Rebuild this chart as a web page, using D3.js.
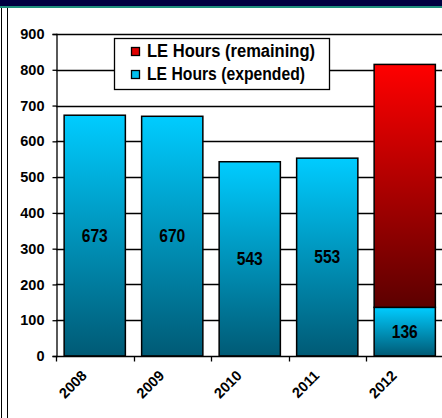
<!DOCTYPE html>
<html>
<head>
<meta charset="utf-8">
<script src="https://cdn.jsdelivr.net/npm/d3@7/dist/d3.min.js"></script>
<style>
  html, body { margin: 0; padding: 0; background: #fff; }
  svg { display: block; font-family: Arial, "Liberation Sans", sans-serif; }
</style>
</head>
<body>
<svg id="chart" width="442" height="418"></svg>
<script>
// LE hours by year
const years = ["2008", "2009", "2010", "2011", "2012"];
const expended = [673, 670, 543, 553, 136];
const remaining = [0, 0, 0, 0, 679];
const yTicks = [0, 100, 200, 300, 400, 500, 600, 700, 800, 900];
const legendLabels = ["LE Hours (remaining)", "LE Hours (expended)"];

const W = 442, H = 418;
const svg = d3.select("#chart");

// gradients for bar fills
const defs = svg.append("defs");
function vGrad(id, top, bottom) {
  const g = defs.append("linearGradient").attr("id", id)
    .attr("x1", 0).attr("y1", 0).attr("x2", 0).attr("y2", 1);
  g.append("stop").attr("offset", "0%").attr("stop-color", top);
  g.append("stop").attr("offset", "100%").attr("stop-color", bottom);
}
vGrad("gExp", "#00ccff", "#005a75");
vGrad("gRem", "#ff0000", "#5c0000");

// frame: header band and left rules
svg.append("rect").attr("x", 0).attr("y", 0).attr("width", W).attr("height", 6).attr("fill", "#000040");
svg.append("rect").attr("x", 0).attr("y", 6).attr("width", W).attr("height", 2).attr("fill", "#1f8f7c");
svg.append("line").attr("x1", 1.5).attr("x2", 1.5).attr("y1", 8).attr("y2", H).attr("stroke", "#000").attr("stroke-width", 1);
svg.append("line").attr("x1", 7.5).attr("x2", 7.5).attr("y1", 8).attr("y2", H).attr("stroke", "#000").attr("stroke-width", 1);

const x = d3.scaleBand().domain(years).range([56, 443.5]).paddingInner(0.21).paddingOuter(0.105);
const y = d3.scaleLinear().domain([0, 900]).range([356, 34]);

// horizontal grid lines
svg.append("g").selectAll("line").data(yTicks.filter(d => d > 0)).join("line")
  .attr("x1", 56).attr("x2", W)
  .attr("y1", d => Math.round(y(d)) + 0.5).attr("y2", d => Math.round(y(d)) + 0.5)
  .attr("stroke", "#000").attr("stroke-width", 1.3);

// bars
const bars = svg.append("g");
years.forEach((yr, i) => {
  const e = expended[i], r = remaining[i];
  bars.append("rect")
    .attr("x", x(yr)).attr("width", x.bandwidth())
    .attr("y", y(e)).attr("height", y(0) - y(e))
    .attr("fill", "url(#gExp)").attr("stroke", "#000").attr("stroke-width", 1.5);
  if (r > 0) {
    bars.append("rect")
      .attr("x", x(yr)).attr("width", x.bandwidth())
      .attr("y", y(e + r)).attr("height", y(e) - y(e + r))
      .attr("fill", "url(#gRem)").attr("stroke", "#000").attr("stroke-width", 1.5);
  }
  bars.append("text")
    .attr("x", x(yr) + x.bandwidth() / 2 - 13)
    .attr("y", (y(0) + y(e)) / 2)
    .attr("dy", "0.36em")
    .attr("textLength", 26).attr("lengthAdjust", "spacingAndGlyphs")
    .attr("font-size", 17.5).attr("font-weight", "bold").attr("fill", "#000")
    .text(e);
});

// y axis
const yAxis = svg.append("g").attr("transform", "translate(56.5,0)")
  .call(d3.axisLeft(y).tickValues(yTicks).tickSize(4).tickPadding(8).tickFormat(d3.format("d")));
yAxis.select(".domain").attr("stroke", "#000").attr("stroke-width", 1.3);
yAxis.selectAll(".tick line").attr("stroke", "#000").attr("stroke-width", 1.3);
yAxis.selectAll("text").attr("font-size", 14.5).attr("font-weight", "bold").attr("fill", "#000")
  .attr("font-family", "Arial, 'Liberation Sans', sans-serif");

// x axis
const xAxis = svg.append("g").attr("transform", "translate(0,356.5)");
xAxis.append("line").attr("x1", 56).attr("x2", W).attr("y1", 0).attr("y2", 0)
  .attr("stroke", "#000").attr("stroke-width", 1.3);
const tickXs = years.map(yr => x(yr) - x.step() * x.paddingInner() / 2);
xAxis.selectAll("line.t").data(tickXs).join("line").attr("class", "t")
  .attr("x1", d => Math.round(d) + 0.5).attr("x2", d => Math.round(d) + 0.5)
  .attr("y1", 0).attr("y2", 5).attr("stroke", "#000").attr("stroke-width", 1.3);
xAxis.selectAll("text").data(years).join("text")
  .attr("transform", d => `translate(${x(d) + x.bandwidth() / 2 - 7},${20}) rotate(-45)`)
  .attr("text-anchor", "end")
  .attr("font-size", 14.5).attr("font-weight", "bold").attr("fill", "#000")
  .text(d => d);

// legend
const lg = svg.append("g").attr("transform", "translate(114,38)");
lg.append("rect").attr("x", 0.5).attr("y", 0.5).attr("width", 215).attr("height", 51)
  .attr("fill", "#fff").attr("stroke", "#000").attr("stroke-width", 1.3);
const swatches = ["#e00000", "#00c0ee"];
const legendWidths = [168, 158];
legendLabels.forEach((lab, i) => {
  const base = 19 + i * 23;
  lg.append("rect").attr("x", 17.5).attr("y", base - 9.5).attr("width", 8).attr("height", 8)
    .attr("fill", swatches[i]).attr("stroke", "#000").attr("stroke-width", 1.3);
  lg.append("text").attr("x", 33).attr("y", base)
    .attr("textLength", legendWidths[i]).attr("lengthAdjust", "spacingAndGlyphs")
    .attr("font-size", 17.5).attr("font-weight", "bold").attr("fill", "#000")
    .text(lab);
});
</script>
</body>
</html>
